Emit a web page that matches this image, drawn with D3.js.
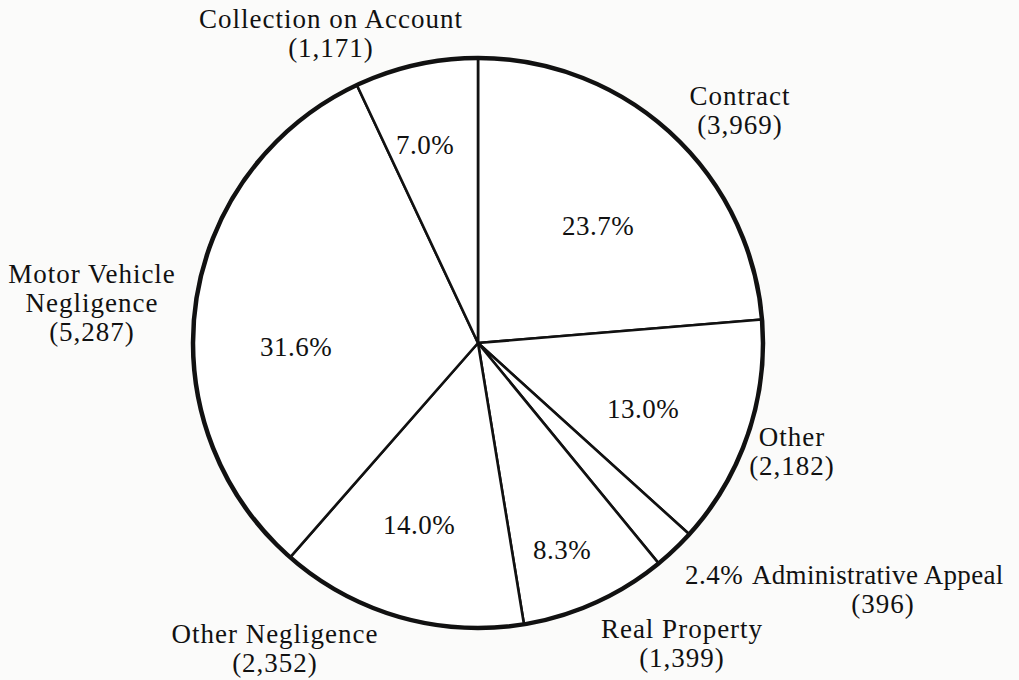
<!DOCTYPE html>
<html>
<head>
<meta charset="utf-8">
<script src="https://cdn.jsdelivr.net/npm/d3@7"></script>
<style>
  body { margin: 0; background: #fbfbfa; }
  svg { display: block; }
</style>
</head>
<body>
<svg id="pie" width="1019" height="680"></svg>
<script>
// case types, clockwise from 12 o'clock
var categories = ["Contract", "Other", "Administrative Appeal", "Real Property",
    "Other Negligence", "Motor Vehicle Negligence", "Collection on Account"];
var cases = [3969, 2182, 396, 1399, 2352, 5287, 1171];

// name lines for the outside labels
var nameLines = [["Contract"], ["Other"], ["Administrative Appeal"], ["Real Property"],
    ["Other Negligence"], ["Motor Vehicle", "Negligence"], ["Collection on Account"]];

// where each label block sits (center x, first baseline y) and where the percent goes
var namePos = [[740, 105], [792, 446], [883, 584], [682, 638], [275, 643], [92, 283], [331, 28]];
var pctPos = [[598, 235], [643, 418], [685, 584], [562, 559], [419, 534], [296, 356], [425, 154]];

var svg = d3.select("#pie"),
    cx = 478,
    cy = 343,
    radius = 285,
    lineH = 29,
    font = "'Liberation Serif', 'Times New Roman', serif";

var total = d3.sum(cases),
    fmtPct = d3.format(".1f"),
    fmtN = d3.format(",");

var rows = categories.map(function (c, i) {
    return {name: c, value: cases[i], i: i};
});

var pie = d3.pie()
    .sort(null)
    .value(function (d) { return d.value; });

var arc = d3.arc()
    .innerRadius(0)
    .outerRadius(radius);

var g = svg.append("g")
    .attr("transform", "translate(" + cx + "," + cy + ")");

g.selectAll("path.slice")
    .data(pie(rows))
    .enter().append("path")
    .attr("class", "slice")
    .attr("d", arc)
    .attr("fill", "#fff")
    .attr("stroke", "#111")
    .attr("stroke-width", 2.6)
    .attr("stroke-linejoin", "round");

g.append("circle")
    .attr("r", radius)
    .attr("fill", "none")
    .attr("stroke", "#111")
    .attr("stroke-width", 4.5);

// percentages
svg.selectAll("text.pct")
    .data(rows)
    .enter().append("text")
    .attr("class", "pct")
    .attr("x", function (d) { return pctPos[d.i][0]; })
    .attr("y", function (d) { return pctPos[d.i][1]; })
    .attr("text-anchor", function (d) { return d.name == "Administrative Appeal" ? "start" : "middle"; })
    .style("font-family", font)
    .style("font-size", "27px")
    .style("letter-spacing", "0.5px")
    .style("fill", "#111")
    .text(function (d) { return fmtPct(d.value / total * 100) + "%"; });

// names with counts
var labels = svg.selectAll("text.name")
    .data(rows)
    .enter().append("text")
    .attr("class", "name")
    .style("font-family", font)
    .style("font-size", "27px")
    .style("letter-spacing", "1px")
    .style("fill", "#111")
    .attr("text-anchor", "middle");

labels.each(function (d) {
    var t = d3.select(this),
        lines = nameLines[d.i].concat(["(" + fmtN(d.value) + ")"]),
        x = namePos[d.i][0],
        y = namePos[d.i][1];
    if (d.name == "Administrative Appeal") {
        // sits on the same line as its percentage, count centered below
        t.append("tspan").attr("x", 752).attr("y", y)
            .attr("text-anchor", "start")
            .style("letter-spacing", "0.3px")
            .text(lines[0]);
        t.append("tspan").attr("x", x).attr("y", y + lineH).text(lines[1]);
        return;
    }
    lines.forEach(function (s, k) {
        t.append("tspan")
            .attr("x", x)
            .attr("y", y + k * lineH)
            .text(s);
    });
});
</script>
</body>
</html>
